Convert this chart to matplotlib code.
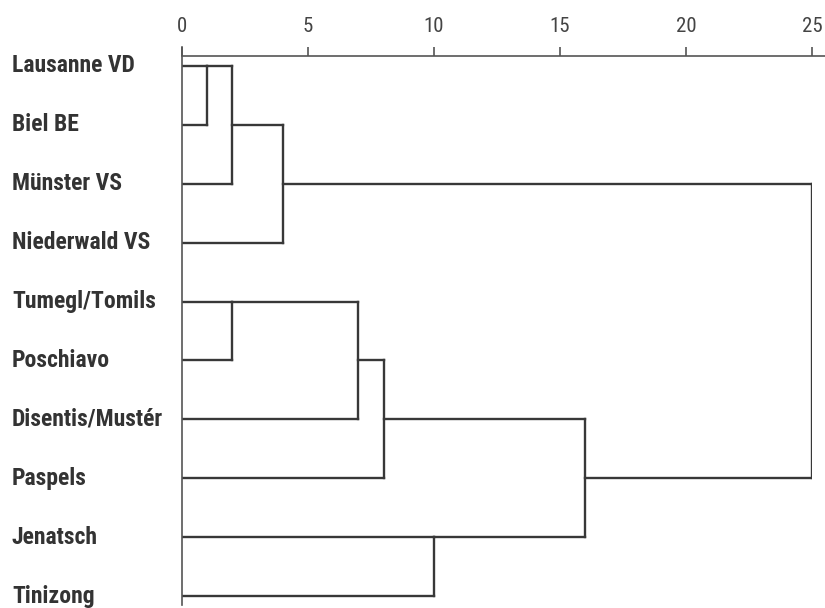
import matplotlib
matplotlib.use("Agg")
import matplotlib.pyplot as plt
from matplotlib.transforms import blended_transform_factory
from matplotlib import font_manager

labels = ["Lausanne VD", "Biel BE", "Münster VS", "Niederwald VS", "Tumegl/Tomils",
          "Poschiavo", "Disentis/Mustér", "Paspels", "Jenatsch", "Tinizong"]
# merges: node ids 10.. in order (scipy style)
merge_a = [0, 10, 4, 11, 12, 14, 8, 15, 13]
merge_b = [1, 2, 5, 3, 6, 7, 9, 16, 17]
merge_h = [1, 2, 2, 4, 7, 8, 10, 16, 25]
xticks = [0, 5, 10, 15, 20, 25]

names = {f.name for f in font_manager.fontManager.ttflist}
def pick(cands):
    for c in cands:
        if c in names:
            return c
    return "DejaVu Sans"
label_font = pick(["Roboto Condensed", "Archivo Narrow", "Asap Condensed", "Fira Sans Condensed"])
tick_font = pick(["Roboto Condensed", "Barlow Semi Condensed", "Fira Sans Condensed", "Roboto"])

W, H = 825, 608
fig = plt.figure(figsize=(W / 100, H / 100), dpi=100)
y_top_px, y_bot_px = 56, 605
ax = fig.add_axes([182 / W, 1 - y_bot_px / H, 630 / W, (y_bot_px - y_top_px) / H])
px = 58.9
ax.set_xlim(0, 25)
ax.set_ylim(9 + (y_bot_px - 596) / px, -(66 - y_top_px) / px)

line_c = "#383838"
lw = 1.7
n = len(labels)
node_x = {i: 0.0 for i in range(n)}
node_y = {i: float(i) for i in range(n)}
for k, (a, b, h) in enumerate(zip(merge_a, merge_b, merge_h)):
    ya, yb = node_y[a], node_y[b]
    ax.plot([node_x[a], h], [ya, ya], color=line_c, lw=lw, solid_capstyle="projecting")
    ax.plot([node_x[b], h], [yb, yb], color=line_c, lw=lw, solid_capstyle="projecting")
    ax.plot([h, h], [ya, yb], color=line_c, lw=lw, solid_capstyle="projecting")
    nid = n + k
    node_x[nid] = h
    if a < n and b < n:
        node_y[nid] = min(ya, yb)
    else:
        node_y[nid] = (ya + yb) / 2

for s in ["right", "bottom", "left", "top"]:
    ax.spines[s].set_visible(False)
axc = "#555555"
ax.plot([0, 25.6], [ax.get_ylim()[1]] * 2, color=axc, lw=1.2, clip_on=False)
ax.plot([0, 0], [ax.get_ylim()[0], ax.get_ylim()[1] - 9 / px], color=axc, lw=1.2, clip_on=False)

ax.xaxis.tick_top()
ax.set_xticks(xticks)
ax.set_xticklabels([str(t) for t in xticks], fontsize=15, color="#444444",
                   family=[tick_font, "DejaVu Sans"], fontweight="normal")
ax.tick_params(axis="x", direction="out", length=6.5, width=1.2, color=axc, pad=8)
ax.set_yticks([])

tr = blended_transform_factory(fig.transFigure, ax.transData)
for i, lab in enumerate(labels):
    ax.text(12 / W, i, lab, transform=tr, ha="left", va="center", fontsize=17,
            fontweight="bold", family=[label_font, "DejaVu Sans"], color="#333333",
            clip_on=False)

fig.savefig("out.png", dpi=100)
